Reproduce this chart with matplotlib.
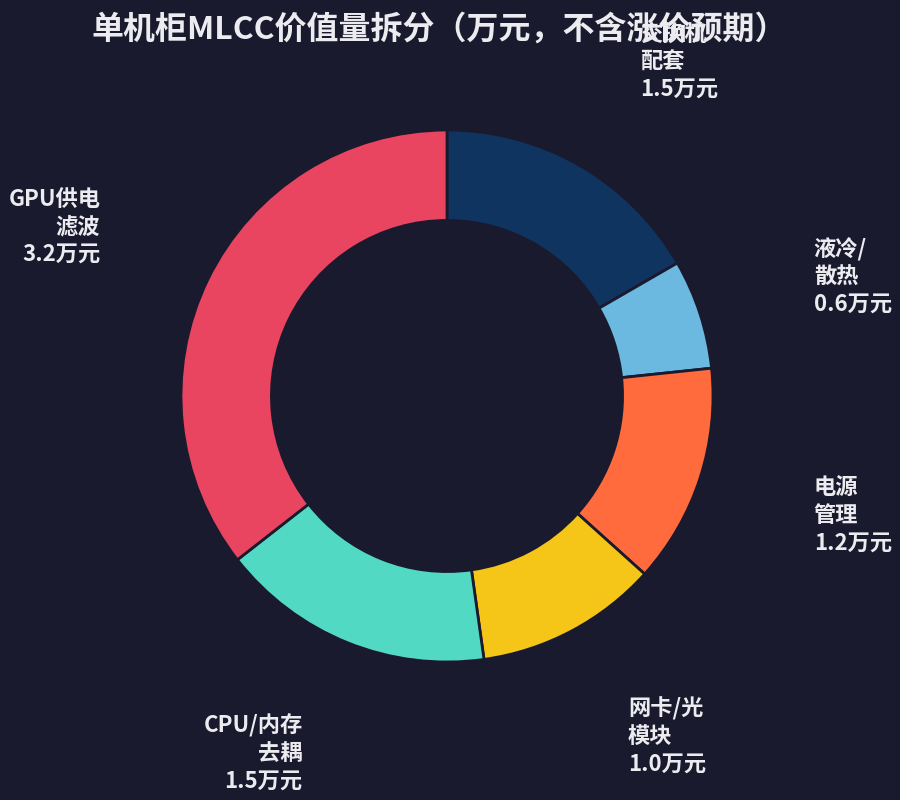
import matplotlib.pyplot as plt

plt.rcParams['font.family'] = ['Noto Sans CJK SC', 'DejaVu Sans']

# data (clockwise from top)
labels = ['交换机\n配套', '液冷/\n散热', '电源\n管理', '网卡/光\n模块', 'CPU/内存\n去耦', 'GPU供电\n滤波']
values = [1.5, 0.6, 1.2, 1.0, 1.5, 3.2]
colors = ['#0f3460', '#6bb8e0', '#ff6b3d', '#f5c518', '#52d9c4', '#e94560']

bg = '#1a1a2e'
txt = '#ececf0'

fig = plt.figure(figsize=(9, 8), dpi=100, facecolor=bg)
ax = fig.add_axes([0, 0, 1, 1])
ax.set_facecolor(bg)

texts = [f'{l}\n{v:.1f}万元' for l, v in zip(labels, values)]

wedges, ts = ax.pie(values, labels=texts, colors=colors, startangle=90,
                    counterclock=False, radius=1.0, labeldistance=1.45,
                    wedgeprops=dict(width=0.34, edgecolor=bg, linewidth=2),
                    textprops=dict(color=txt, fontsize=16, fontweight='bold',
                                   linespacing=1.25))

s = 266.0
ax.set_xlim(-447 / s, 453 / s)
ax.set_ylim(-404 / s, 396 / s)
ax.set_aspect('equal')
ax.axis('off')

fig.text(0.488, 0.963, '单机柜MLCC价值量拆分（万元，不含涨价预期）',
         ha='center', va='center', color=txt, fontsize=23, fontweight='bold')

fig.savefig('out.png', dpi=100, facecolor=bg)
